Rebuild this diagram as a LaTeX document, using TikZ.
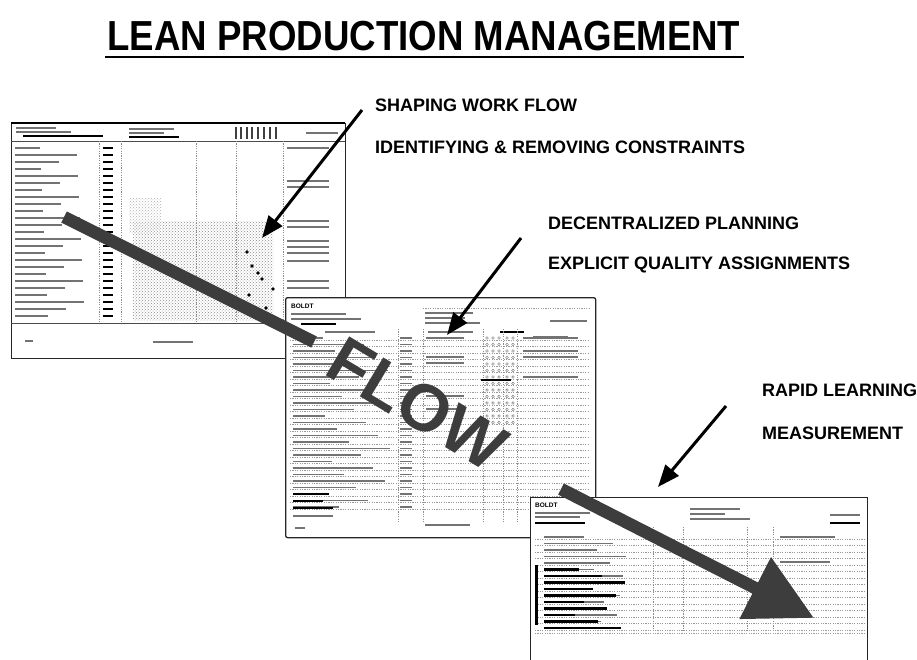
\documentclass[tikz,border=0pt]{standalone}
\usepackage{fontspec}
\setmainfont{Liberation Sans}
\usetikzlibrary{arrows.meta,calc,positioning,patterns}

\tikzset{
  sheet/.style={draw=black!85, fill=white, line width=1.3pt, inner sep=0pt, anchor=north west},
  rule/.style={black!70, line width=0.7pt},
  rowline/.style={black!40, line width=0.6pt, dash pattern=on 1.2pt off 1.2pt},
  colline/.style={black!45, line width=0.6pt, dash pattern=on 1.2pt off 1.2pt},
  txtbar/.style={black!55, line width=1.5pt},
  boldbar/.style={black, line width=2.6pt},
  band/.style={black!76, line width=12.5pt},
  pointer/.style={black, line width=3pt, -{Triangle[length=22pt,width=17pt]}},
  caption/.style={font=\fontsize{18}{18}\selectfont\bfseries, anchor=west, inner sep=0pt},
  logo/.style={font=\fontsize{6.5}{6.5}\selectfont\bfseries, anchor=west, inner sep=0pt},
}

\begin{document}
\begin{tikzpicture}[x=1pt,y=-1pt]
\clip (0,0) rectangle (917,659);
\fill[white] (0,0) rectangle (917,659);

% title
\node[font=\fontsize{42}{42}\selectfont\bfseries, anchor=base, inner sep=0pt, xscale=0.872] (title) at (424,50) {LEAN PRODUCTION MANAGEMENT};
\draw[line width=2.8pt] ([shift={(-2pt,-7pt)}]title.base west) -- ([shift={(3pt,-7pt)}]title.base east);

% first sheet
\begin{scope}[shift={(11,123)}]
  \node[sheet, minimum width=334pt, minimum height=235pt] (sheetA) at (0,0) {};
  \draw[black, line width=2.4pt] (0,0) -- (334,0);
  \draw[rule] (0,18) -- (334,18);
  \draw[rule] (0,200) -- (334,200);
  \foreach \x in {88,110,185,225,272}
    \draw[colline] (\x,18) -- (\x,200);
  \draw[txtbar] (5,5) -- ++(40,0);
  \draw[txtbar] (5,9) -- ++(55,0);
  \draw[boldbar] (12,13) -- ++(80,0);
  \draw[txtbar] (118,6) -- ++(45,0);
  \draw[txtbar] (118,10) -- ++(35,0);
  \draw[boldbar] (118,14) -- ++(50,0);
  \draw[txtbar] (295,10) -- ++(32,0);
  \foreach \x in {225,230,236,241,247,253,259,265}
    \draw[black!75, line width=1.6pt] (\x,4) -- (\x,16);
  \foreach \i in {0,...,24} {
    \pgfmathsetmacro\len{25+mod(\i*37,55)}
    \draw[txtbar] (4,25+7*\i) -- ++(\len,0);
    \draw[boldbar] (92,25+7*\i) -- ++(10,0);
  }
  \fill[pattern=crosshatch dots, pattern color=black!45] (122,98) rectangle (262,197);
  \fill[pattern=crosshatch dots, pattern color=black!30] (118,75) rectangle (150,110);
  \foreach \p in {(236,129),(241,143),(247,150),(251,156),(238,172),(262,166),(255,185)}
    \fill[black] \p circle (1.8pt);
  \foreach \y in {25,58,64,98,104,118,124,130,138,158,165,184}
    \draw[txtbar] (276,\y) -- ++(42,0);
  \draw[txtbar] (142,219) -- ++(40,0);
  \draw[txtbar] (14,218) -- ++(8,0);
\end{scope}

% second sheet
\begin{scope}[shift={(285,297)}]
  \node[sheet, minimum width=310pt, minimum height=240pt, rounded corners=2pt] (sheetB) at (0,0) {};
  \node[logo] (logoB) at (6,9) {BOLDT};
  \draw[txtbar] (6,17) -- ++(55,0);
  \draw[txtbar] (6,22) -- ++(70,0);
  \draw[boldbar] (16,27) -- ++(35,0);
  \draw[rowline] (138,11) -- (305,11);
  \draw[txtbar] (140,16) -- ++(48,0);
  \draw[txtbar] (140,21) -- ++(40,0);
  \draw[txtbar] (140,26) -- ++(55,0);
  \draw[txtbar] (265,24) -- ++(37,0);
  \draw[boldbar] (215,35) -- ++(24,0);
  \draw[txtbar] (248,40) -- ++(35,0);
  \draw[txtbar] (40,35) -- ++(50,0);
  \draw[txtbar] (143,35) -- ++(45,0);
  \foreach \x in {113,138,198,218,232}
    \draw[colline] (\x,32) -- (\x,226);
  \foreach \i in {0,...,26} {
    \pgfmathsetmacro\len{30+mod(\i*41,70)}
    \draw[rowline] (5,43+6.5*\i) -- (305,43+6.5*\i);
    \draw[txtbar] (8,41+6.5*\i) -- ++(\len,0);
    \draw[txtbar] (115,41+6.5*\i) -- ++(12,0);
  }
  \foreach \y in {41,60,66,99,112}
    \draw[txtbar] (141,\y) -- ++(38,0);
  \foreach \i in {0,...,13}
    \foreach \x in {202,208,214,222,228}
      \draw[black!55] (\x,41+6.5*\i) circle (1.3pt);
  \draw[boldbar] (196,83) -- ++(30,0);
  \foreach \y in {41,54,60,80}
    \draw[txtbar] (238,\y) -- ++(55,0);
  \draw[boldbar] (8,197) -- ++(36,0);
  \draw[boldbar] (8,204) -- ++(30,0);
  \draw[boldbar] (8,211) -- ++(40,0);
  \draw[txtbar] (8,219) -- ++(40,0);
  \draw[txtbar] (140,228) -- ++(45,0);
  \draw[txtbar] (10,231) -- ++(10,0);
\end{scope}

% third sheet
\begin{scope}[shift={(530,497)}]
  \node[sheet, minimum width=337pt, minimum height=180pt] (sheetC) at (0,0) {};
  \node[logo] (logoC) at (5,8) {BOLDT};
  \draw[txtbar] (5,16) -- ++(55,0);
  \draw[txtbar] (5,20) -- ++(45,0);
  \draw[boldbar] (5,26) -- ++(50,0);
  \draw[txtbar] (160,12) -- ++(50,0);
  \draw[txtbar] (160,17) -- ++(35,0);
  \draw[txtbar] (160,22) -- ++(60,0);
  \draw[txtbar] (300,18) -- ++(30,0);
  \draw[boldbar] (300,26) -- ++(30,0);
  \foreach \x in {123,153,217,243}
    \draw[colline] (\x,30) -- (\x,135);
  \foreach \i in {0,...,14} {
    \pgfmathsetmacro\len{40+mod(\i*29,45)}
    \draw[rowline] (5,42+6.5*\i) -- (335,42+6.5*\i);
    \draw[txtbar] (14,40+6.5*\i) -- ++(\len,0);
  }
  \foreach \i in {5,...,14} {
    \pgfmathsetmacro\len{30+mod(\i*23,55)}
    \draw[boldbar] (14,40+6.5*\i) -- ++(\len,0);
  }
  \draw[black, line width=3pt] (6,68) -- (6,128);
  \draw[rowline] (5,136) -- (335,136);
  \draw[txtbar] (250,40) -- ++(55,0);
  \draw[txtbar] (250,65) -- ++(50,0);
\end{scope}

% the big flow band
\coordinate (bandA) at (64,217);
\coordinate (bandB) at (314,342);
\coordinate (bandC) at (561,489);
\coordinate (bandD) at (814,618);
\draw[band] (bandA) -- (bandB);
\draw[band, -{Triangle[length=66pt,width=66pt]}] (bandC) -- (bandD);
\node[font=\fontsize{66}{66}\selectfont\bfseries, text=black!76, rotate=-31, inner sep=0pt] (flow) at (417,404) {FLOW};

% captions and pointers
\node[caption] (shaping) at (375,105) {SHAPING WORK FLOW};
\node[caption] (identify) at (375,147) {IDENTIFYING \& REMOVING CONSTRAINTS};
\node[caption] (decentral) at (548,223) {DECENTRALIZED PLANNING};
\node[caption] (explicit) at (548,265) {EXPLICIT QUALITY ASSIGNMENTS};
\node[caption] (rapid) at (762,390) {RAPID LEARNING};
\node[caption] (measure) at (762,433) {MEASUREMENT};

\coordinate (tipA) at (262,238);
\coordinate (tipB) at (447,335);
\coordinate (tipC) at (658,487);
\draw[pointer] ([shift={(-13pt,-5pt)}]shaping.west) -- (tipA);
\draw[pointer] ([shift={(-27pt,-15pt)}]decentral.west) -- (tipB);
\draw[pointer] ([shift={(-36pt,-16pt)}]rapid.west) -- (tipC);
\end{tikzpicture}
\end{document}
